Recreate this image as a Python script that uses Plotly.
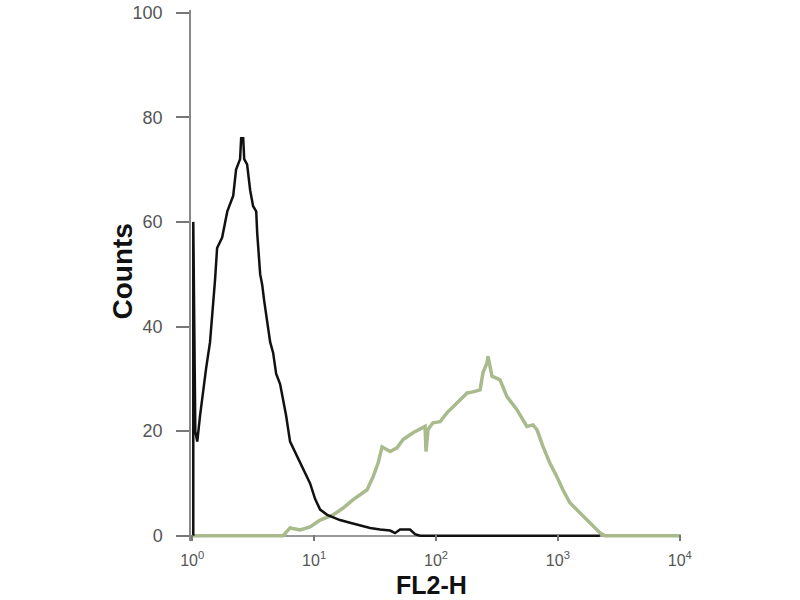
import plotly.graph_objects as go

# Control (black) histogram: FL2-H channel values and counts
control_fl2h = [1.02, 1.02, 1.06, 1.10, 1.16, 1.23, 1.30, 1.40, 1.49, 1.54, 1.60, 1.76, 1.94,
                2.17, 2.29, 2.47, 2.52, 2.62, 2.67, 2.82, 2.99, 3.16, 3.35, 3.41, 3.61, 3.75,
                3.89, 4.12, 4.36, 4.61, 4.88, 5.26, 5.57, 5.89, 6.35, 6.98, 7.68, 8.44, 9.27,
                10.2, 11.2, 12.8, 14.3, 16.3, 19.7, 23.8, 28.8, 34.8, 42.0, 46.1, 50.7, 61.2,
                67.3, 73.9, 2208]
control_counts = [0, 60, 20, 18, 23, 28, 32, 37, 44, 49, 55, 57, 62,
                  65, 70, 72, 76, 76, 72, 71, 66, 63, 62, 58, 50, 48,
                  45, 41, 37, 35, 31, 29, 26, 23, 18, 16, 14, 12, 10,
                  7, 5, 4, 3.6, 3, 2.5, 2, 1.5, 1.2, 1, 0.5, 1.2, 1.2,
                  0.3, 0, 0]

# Stained sample (green) histogram
stained_fl2h = [1.0, 5.57, 6.35, 7.68, 9.27, 11.2, 14.3, 17.3, 20.9, 27.2, 30.5, 33.5, 36.1,
                42.0, 47.9, 53.7, 64.8, 73.9, 81.3, 82.8, 86.0, 94.4, 108, 123, 138, 157,
                180, 201, 230, 243, 262, 267, 288, 335, 382, 461, 557, 624, 673, 754, 859,
                981, 1099, 1254, 1514, 1829, 2208, 2427, 10190]
stained_counts = [0, 0, 1.5, 1.1, 1.7, 3, 4, 5.3, 6.9, 8.8, 11.3, 13.9, 17,
                  16.1, 16.8, 18.4, 19.7, 20.3, 20.9, 16.1, 20.3, 21.6, 21.8, 23.5, 24.7, 26,
                  27.3, 27.5, 27.9, 31.2, 33, 34.3, 30.5, 29.8, 26.6, 24.1, 20.9, 21.2, 20.3,
                  17.1, 13.9, 11.3, 8.8, 6.3, 4.4, 2.5, 0.6, 0, 0]

x_tickvals = [1, 10, 100, 1000, 10000]
x_ticktext = ["10<sup>0</sup>", "10<sup>1</sup>", "10<sup>2</sup>", "10<sup>3</sup>", "10<sup>4</sup>"]
y_tickvals = [0, 20, 40, 60, 80, 100]
x_title = "FL2-H"
y_title = "Counts"

fig = go.Figure()
fig.add_trace(go.Scatter(x=stained_fl2h, y=stained_counts, mode="lines",
                         line=dict(color="#a9ba8c", width=3.5), showlegend=False))
fig.add_trace(go.Scatter(x=control_fl2h, y=control_counts, mode="lines",
                         line=dict(color="#111111", width=2.5), showlegend=False))

fig.update_layout(
    width=800, height=600, autosize=False,
    margin=dict(l=191, r=119, t=10, b=59),
    paper_bgcolor="white", plot_bgcolor="white",
    font=dict(family="Liberation Sans, Arial, sans-serif"),
    xaxis=dict(type="log", range=[-0.01, 4.01], tickvals=x_tickvals, ticktext=x_ticktext,
               ticks="inside", ticklen=6, tickwidth=1.5, tickcolor="#777",
               showline=False, showgrid=False, zeroline=False, automargin=False,
               tickfont=dict(size=16, color="#555"), ticklabelstandoff=8),
    yaxis=dict(range=[-1, 100.5], tickvals=y_tickvals,
               ticks="outside", ticklen=13, tickwidth=1.5, tickcolor="#777",
               showline=True, linecolor="#888", linewidth=1.5, showgrid=False,
               zeroline=True, zerolinecolor="#999", zerolinewidth=1.5, automargin=False,
               tickfont=dict(size=18, color="#555"), ticklabelstandoff=10,
               ticklabeloverflow="allow"),
    annotations=[
        dict(text="<b>" + y_title + "</b>", xref="paper", yref="paper", x=0, y=0.5,
             xanchor="center", yanchor="middle", xshift=-69, yshift=4, textangle=-90,
             showarrow=False, borderpad=0, font=dict(size=28, color="#111")),
        dict(text="<b>" + x_title + "</b>", xref="paper", yref="paper", x=0.5, y=0,
             xanchor="center", yanchor="middle", xshift=-5, yshift=-44,
             showarrow=False, borderpad=0, font=dict(size=25, color="#111")),
    ],
)

fig.write_html("out.html", config={"displayModeBar": False},
               post_script="document.body.style.margin='0';")
